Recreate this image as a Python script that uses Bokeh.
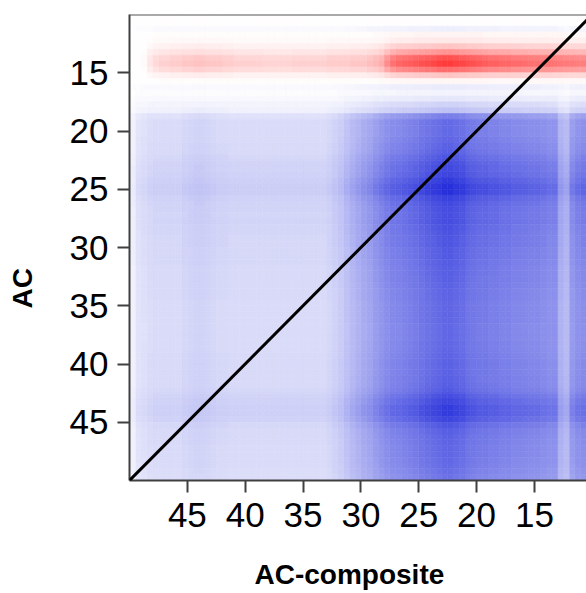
import numpy as np
from bokeh.plotting import figure
from bokeh.models import (Range1d, FixedTicker, LinearColorMapper, ColumnDataSource,
                          Slope, Span, Title, LinearAxis)
from bokeh.transform import transform
from bokeh.embed import file_html
from bokeh.resources import INLINE

# ---- data (cells of 0.5 units; centres 10.25 ... 49.75) ----
ac_centres = [10.25 + 0.5 * i for i in range(80)]            # AC (y)
ac_composite_centres = [10.25 + 0.5 * i for i in range(80)]  # AC-composite (x)

# row profiles (AC), ascending from 10.25
red_row = [0, 0, 0, 0.06, 0.12, 0.3, 0.55, 0.9, 1.0, 0.75,
           0.3, 0.05, 0, 0, 0, 0, 0, 0, 0, 0,
           0, 0, 0, 0, 0, 0, 0, 0, 0, 0,
           0, 0, 0, 0, 0, 0, 0, 0, 0, 0,
           0, 0, 0, 0, 0, 0, 0, 0, 0, 0,
           0, 0, 0, 0, 0, 0, 0, 0, 0, 0,
           0, 0, 0, 0, 0, 0, 0, 0, 0, 0,
           0, 0, 0, 0, 0, 0, 0, 0, 0, 0]
blue_row = [0, 0, 0.08, 0, 0, 0, 0, 0, 0, 0,
            0, 0, 0.1, 0.06, 0.12, 0.22, 0.3, 0.62, 0.72, 0.72,
            0.72, 0.74, 0.76, 0.78, 0.82, 0.86, 0.88, 0.9, 0.95, 1.0,
            1.0, 0.92, 0.88, 0.86, 0.85, 0.86, 0.84, 0.83, 0.82, 0.82,
            0.8, 0.8, 0.79, 0.78, 0.78, 0.77, 0.76, 0.75, 0.75, 0.74,
            0.74, 0.74, 0.74, 0.73, 0.73, 0.73, 0.74, 0.74, 0.75, 0.76,
            0.76, 0.76, 0.77, 0.78, 0.8, 0.86, 0.9, 0.94, 0.94, 0.9,
            0.82, 0.78, 0.76, 0.75, 0.74, 0.74, 0.73, 0.72, 0.7, 0.68]

# column profiles (AC-composite), ascending from 10.25
red_col = [0.5, 0.5, 0.5, 0.52, 0.52, 0.53, 0.54, 0.55, 0.55, 0.56,
           0.56, 0.57, 0.58, 0.58, 0.6, 0.6, 0.62, 0.62, 0.64, 0.66,
           0.68, 0.7, 0.72, 0.74, 0.76, 0.76, 0.75, 0.72, 0.7, 0.68,
           0.66, 0.64, 0.62, 0.6, 0.55, 0.45, 0.32, 0.28, 0.25, 0.22,
           0.22, 0.22, 0.2, 0.2, 0.2, 0.2, 0.18, 0.18, 0.18, 0.18,
           0.18, 0.18, 0.17, 0.17, 0.17, 0.17, 0.17, 0.18, 0.18, 0.18,
           0.18, 0.18, 0.2, 0.2, 0.22, 0.22, 0.22, 0.24, 0.24, 0.22,
           0.22, 0.2, 0.2, 0.18, 0.18, 0.15, 0.1, 0.02, 0, 0]
blue_col = [0.62, 0.62, 0.6, 0.55, 0.38, 0.42, 0.6, 0.6, 0.62, 0.64,
            0.64, 0.65, 0.66, 0.66, 0.68, 0.68, 0.7, 0.7, 0.72, 0.72,
            0.74, 0.76, 0.8, 0.82, 0.84, 0.84, 0.82, 0.8, 0.78, 0.75,
            0.72, 0.7, 0.68, 0.66, 0.65, 0.62, 0.58, 0.54, 0.49, 0.46,
            0.42, 0.38, 0.33, 0.28, 0.25, 0.22, 0.2, 0.2, 0.2, 0.2,
            0.2, 0.2, 0.2, 0.2, 0.2, 0.2, 0.2, 0.2, 0.2, 0.2,
            0.2, 0.2, 0.2, 0.21, 0.21, 0.22, 0.23, 0.24, 0.24, 0.23,
            0.22, 0.2, 0.2, 0.2, 0.2, 0.2, 0.19, 0.17, 0.15, 0.08]

x_ticks = [45, 40, 35, 30, 25, 20, 15]
y_ticks = [15, 20, 25, 30, 35, 40, 45]

# ---- build cell table ----
rr = np.array(red_row); br = np.array(blue_row)
rc = np.array(red_col); bc = np.array(blue_col)
vals = np.outer(rr, rc) - np.outer(br, bc)
ys, xs = np.meshgrid(ac_centres, ac_composite_centres, indexing="ij")
src = ColumnDataSource(dict(x=xs.ravel(), y=ys.ravel(), v=vals.ravel()))

# blue - white - red palette
def mix(c1, c2, t):
    return "#%02x%02x%02x" % tuple(int(round(a + (b - a) * t)) for a, b in zip(c1, c2))
white = (255, 255, 255); blue_end = (0, 10, 212); red_end = (255, 0, 0)
palette = []
for i in range(256):
    t = i / 255 * 2 - 1
    palette.append(mix(white, blue_end, -t) if t < 0 else mix(white, red_end, t))
mapper = LinearColorMapper(palette=palette, low=-1, high=1)

p = figure(width=586, height=593, x_range=Range1d(50, 10.5), y_range=Range1d(50, 10),
           output_backend="svg", toolbar_location=None,
           min_border_left=129, min_border_right=0, min_border_top=14, min_border_bottom=113)
p.grid.visible = False
p.outline_line_color = None
p.background_fill_color = "white"
p.border_fill_color = "white"

p.rect(x="x", y="y", width=0.5, height=0.5, source=src,
       fill_color=transform("v", mapper), line_color=transform("v", mapper), line_width=0.6)

p.add_layout(Slope(gradient=1, y_intercept=0, line_color="black", line_width=3))
p.add_layout(Span(location=10, dimension="width", line_color="#555555", line_width=2))

axis_col = "#404040"
for ax, ticks in ((p.xaxis, x_ticks), (p.yaxis, y_ticks)):
    ax.ticker = FixedTicker(ticks=ticks)
    ax.minor_tick_line_color = None
    ax.major_tick_in = 0
    ax.major_tick_out = 12
    ax.major_tick_line_width = 2
    ax.major_tick_line_color = axis_col
    ax.axis_line_width = 2
    ax.axis_line_color = axis_col
    ax.major_label_text_font = "Liberation Sans"
    ax.major_label_text_font_size = "35px"
    ax.major_label_text_color = "black"
p.xaxis.major_label_standoff = 10
p.yaxis.major_label_standoff = 9

# invisible spacer axes (push the axis titles outward): one white tick, no label
def spacer(size, at):
    return LinearAxis(ticker=FixedTicker(ticks=[at]), axis_line_color=None,
                      major_tick_line_color="white", major_tick_line_alpha=0.01,
                      minor_tick_line_color=None,
                      major_tick_in=0, major_tick_out=size, minor_tick_in=0, minor_tick_out=0,
                      major_label_standoff=0, major_label_overrides={at: ""},
                      major_label_text_font_size="1px")
p.add_layout(spacer(27, 49.9), "below")
p.add_layout(spacer(27, 10.1), "left")

p.add_layout(Title(text="AC-composite", align="left", offset=125, standoff=0,
                   vertical_align="bottom", text_font="Liberation Sans",
                   text_font_size="28px", text_font_style="bold", text_color="black"), "below")
p.add_layout(Title(text="AC", align="left", offset=172, standoff=0,
                   vertical_align="top", text_font="Liberation Sans",
                   text_font_size="28px", text_font_style="bold", text_color="black"), "left")

open("out.html", "w").write(file_html(p, INLINE))
